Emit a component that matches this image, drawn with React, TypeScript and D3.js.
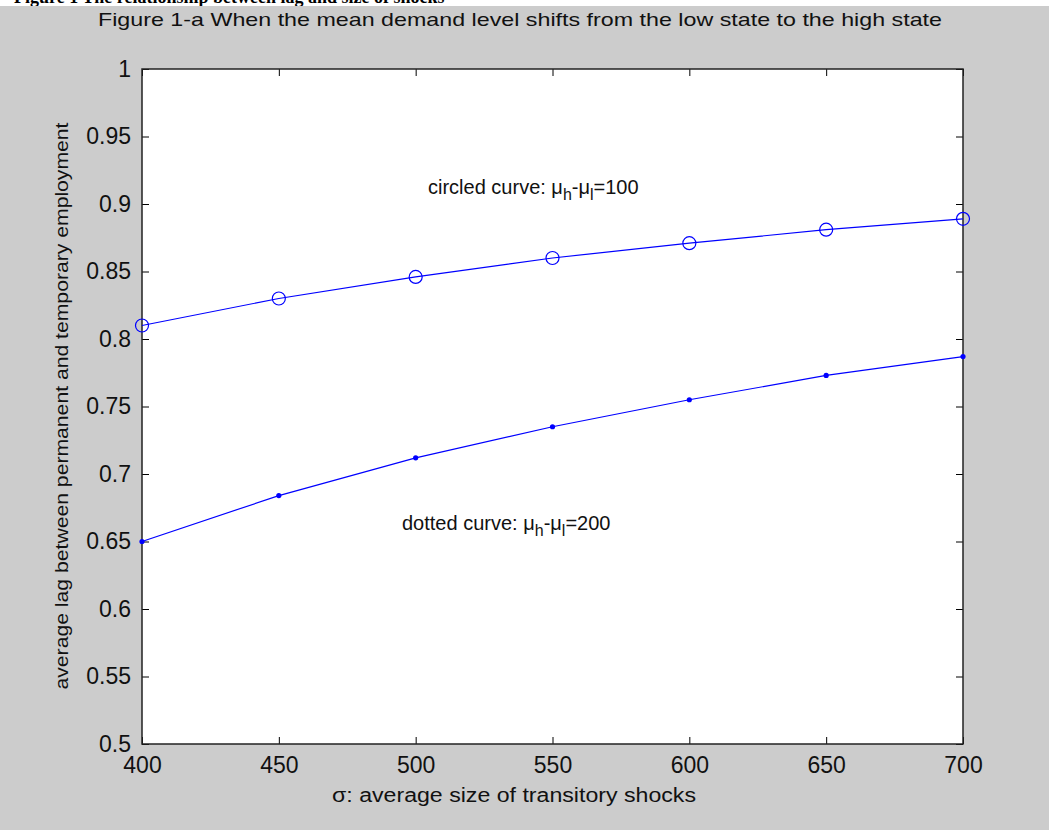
import React, { useEffect, useRef } from 'react';
import * as d3 from 'd3';

const sigma = [400, 450, 500, 550, 600, 650, 700];
const circledLag = [0.81, 0.83, 0.846, 0.86, 0.871, 0.881, 0.889];
const dottedLag = [0.65, 0.684, 0.712, 0.735, 0.755, 0.773, 0.787];
const xTicks = [400, 450, 500, 550, 600, 650, 700];
const yTicks = [0.5, 0.55, 0.6, 0.65, 0.7, 0.75, 0.8, 0.85, 0.9, 0.95, 1];

const W = 1049;
const H = 830;
const FONT = '"Liberation Sans", Arial, Helvetica, sans-serif';

export default function App() {
  const svgRef = useRef<SVGSVGElement>(null);

  useEffect(() => {
    if (!svgRef.current) return;
    const root = d3.select(svgRef.current);
    root.selectAll('*').remove();

    const left = 142, right = 963, top = 69, bottom = 744;
    const blue = '#0000ff';

    // caption of the page above the figure, mostly hidden like in the scan
    root.append('text')
      .attr('x', 14).attr('y', 3)
      .attr('font-family', '"Liberation Serif", "Times New Roman", serif')
      .attr('font-weight', 'bold')
      .attr('font-size', 18)
      .text('Figure 1 The relationship between lag and size of shocks');

    root.append('rect')
      .attr('x', 0).attr('y', 6).attr('width', W).attr('height', H - 6)
      .attr('fill', '#cccccc');

    const x = d3.scaleLinear().domain([400, 700]).range([left, right]);
    const y = d3.scaleLinear().domain([0.5, 1]).range([bottom, top]);

    root.append('rect')
      .attr('x', left).attr('y', top)
      .attr('width', right - left).attr('height', bottom - top)
      .attr('fill', '#ffffff');

    const styleAxis = (g: d3.Selection<SVGGElement, unknown, null, undefined>) => {
      g.select('.domain').remove();
      g.selectAll('line').attr('stroke', '#000');
      g.selectAll('text')
        .attr('font-family', FONT)
        .attr('font-size', 23)
        .attr('fill', '#111');
    };

    // bottom and top x axes (ticks pointing inward)
    root.append('g')
      .attr('transform', `translate(0,${bottom})`)
      .call(d3.axisBottom(x).tickValues(xTicks).tickSize(-7).tickPadding(13).tickFormat(d3.format('d')))
      .call(styleAxis);
    root.append('g')
      .attr('transform', `translate(0,${top})`)
      .call(d3.axisTop(x).tickValues(xTicks).tickSize(-7).tickFormat(() => ''))
      .call(styleAxis);

    // left and right y axes
    root.append('g')
      .attr('transform', `translate(${left},0)`)
      .call(d3.axisLeft(y).tickValues(yTicks).tickSize(-7).tickPadding(11).tickFormat((d) => String(+d)))
      .call(styleAxis);
    root.append('g')
      .attr('transform', `translate(${right},0)`)
      .call(d3.axisRight(y).tickValues(yTicks).tickSize(-7).tickFormat(() => ''))
      .call(styleAxis);

    root.append('rect')
      .attr('x', left).attr('y', top)
      .attr('width', right - left).attr('height', bottom - top)
      .attr('fill', 'none')
      .attr('stroke', '#222')
      .attr('stroke-width', 1.5);

    const line = d3.line<number>()
      .x((_, i) => x(sigma[i]))
      .y((d) => y(d));

    root.append('path')
      .datum(circledLag)
      .attr('d', line)
      .attr('fill', 'none')
      .attr('stroke', blue)
      .attr('stroke-width', 1.2);

    root.append('path')
      .datum(dottedLag)
      .attr('d', line)
      .attr('fill', 'none')
      .attr('stroke', blue)
      .attr('stroke-width', 1.2);

    root.selectAll('.circ')
      .data(circledLag)
      .enter()
      .append('circle')
      .attr('cx', (_, i) => x(sigma[i]))
      .attr('cy', (d) => y(d))
      .attr('r', 6.5)
      .attr('fill', 'none')
      .attr('stroke', blue)
      .attr('stroke-width', 1.2);

    root.selectAll('.dot')
      .data(dottedLag)
      .enter()
      .append('circle')
      .attr('cx', (_, i) => x(sigma[i]))
      .attr('cy', (d) => y(d))
      .attr('r', 2.6)
      .attr('fill', blue);

    // title and axis labels
    root.append('text')
      .attr('x', 520).attr('y', 26)
      .attr('text-anchor', 'middle')
      .attr('font-family', FONT)
      .attr('font-size', 19)
      .attr('fill', '#111')
      .attr('textLength', 844)
      .attr('lengthAdjust', 'spacingAndGlyphs')
      .text('Figure 1-a When the mean demand level shifts from the low state to the high state');

    root.append('text')
      .attr('x', 514).attr('y', 802)
      .attr('text-anchor', 'middle')
      .attr('font-family', FONT)
      .attr('font-size', 20)
      .attr('fill', '#111')
      .attr('textLength', 364)
      .attr('lengthAdjust', 'spacingAndGlyphs')
      .text('σ: average size of transitory shocks');

    root.append('text')
      .attr('transform', `translate(68,406) rotate(-90)`)
      .attr('text-anchor', 'middle')
      .attr('font-family', FONT)
      .attr('font-size', 19)
      .attr('fill', '#111')
      .attr('textLength', 567)
      .attr('lengthAdjust', 'spacingAndGlyphs')
      .text('average lag between permanent and temporary employment');

    const annotate = (tx: number, ty: number, label: string, val: string, len: number) => {
      const t = root.append('text')
        .attr('x', tx).attr('y', ty)
        .attr('font-family', FONT)
        .attr('font-size', 20)
        .attr('fill', '#111');
      t.append('tspan').text(label + ' μ');
      t.append('tspan').attr('dy', 6).attr('font-size', 16).text('h');
      t.append('tspan').attr('dy', -6).text('-μ');
      t.append('tspan').attr('dy', 6).attr('font-size', 16).text('l');
      t.append('tspan').attr('dy', -6).text('=' + val);
      void len;
    };
    annotate(428, 194, 'circled curve:', '100', 240);
    annotate(402, 530, 'dotted curve:', '200', 235);
  }, []);

  return (
    <svg
      ref={svgRef}
      width={W}
      height={H}
      style={{ position: 'fixed', left: 0, top: 0, background: '#ffffff' }}
    />
  );
}
